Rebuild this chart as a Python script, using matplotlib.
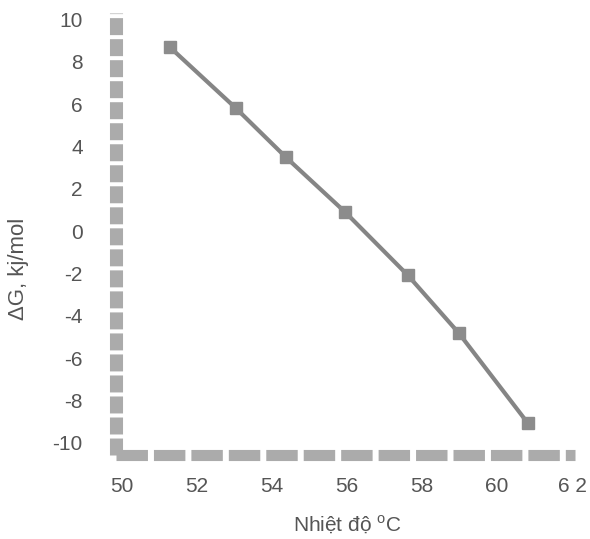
import matplotlib
matplotlib.use('Agg')
import matplotlib.pyplot as plt

# data
temp_c = [51.28, 53.04, 54.37, 55.95, 57.62, 58.98, 60.82]
delta_g = [8.68, 5.8, 3.49, 0.9, -2.08, -4.81, -9.06]
x_ticks = [50, 52, 54, 56, 58, 60, 62]
x_tick_labels = ['50', '52', '54', '56', '58', '60', '6 2']
y_ticks = [10, 8, 6, 4, 2, 0, -2, -4, -6, -8, -10]

text_gray = '#555555'
axis_gray = '#ababab'
line_gray = '#858585'

plt.rcParams['font.family'] = ['Liberation Sans', 'DejaVu Sans']
plt.rcParams['font.size'] = 15
plt.rcParams['axes.unicode_minus'] = False

fig = plt.figure(figsize=(5.9, 5.39), dpi=100)
ax = fig.add_axes([0.1966, 0.1558, 0.778, 0.8201])

ax.plot(temp_c, delta_g, color=line_gray, linewidth=3, marker='s',
        markersize=9, markerfacecolor='#8c8c8c', markeredgecolor='#8c8c8c',
        clip_on=False)

ax.set_xlim(49.84, 62.08)
ax.set_ylim(-10.57, 10.3)

ax.set_xticks(x_ticks)
ax.set_xticklabels(x_tick_labels)
ax.set_yticks(y_ticks)
ax.tick_params(length=0, colors=text_gray, labelsize=15)
ax.tick_params(axis='x', pad=16)
ax.tick_params(axis='y', pad=24)

# thick dashed axes like the scanned figure
for side in ['top', 'right']:
    ax.spines[side].set_visible(False)
ax.spines['left'].set_color(axis_gray)
ax.spines['left'].set_linewidth(9.4)
ax.spines['left'].set_linestyle((0, (1.3, 0.31)))
ax.spines['left'].set_capstyle('butt')
ax.spines['bottom'].set_color(axis_gray)
ax.spines['bottom'].set_linewidth(8)
ax.spines['bottom'].set_linestyle((0, (2.83, 0.54)))
ax.spines['bottom'].set_capstyle('butt')

ax.set_ylabel('ΔG, kj/mol', color=text_gray, fontsize=16)
ax.yaxis.set_label_coords(-0.19, 0.42)
ax.set_xlabel('Nhiệt độ $^{\\mathregular{o}}$C', color=text_gray, fontsize=15)
ax.xaxis.set_label_coords(0.503, -0.132)

fig.savefig('out.png', dpi=100)
